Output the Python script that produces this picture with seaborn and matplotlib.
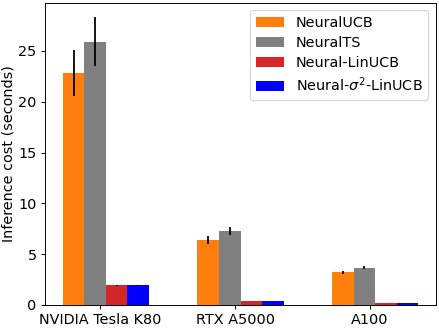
import numpy as np
import matplotlib
matplotlib.use("Agg")
import matplotlib.pyplot as plt
import seaborn as sns

# data
gpus = ["NVIDIA Tesla K80", "RTX A5000", "A100"]
methods = ["NeuralUCB", "NeuralTS", "Neural-LinUCB", r"Neural-$\sigma^2$-LinUCB"]
neural_ucb = [22.85, 6.4, 3.2]
neural_ucb_err = [2.25, 0.35, 0.15]
neural_ts = [25.9, 7.25, 3.65]
neural_ts_err = [2.4, 0.4, 0.15]
neural_linucb = [1.95, 0.4, 0.2]
neural_linucb_err = [0.06, 0.02, 0.02]
neural_s2_linucb = [1.95, 0.4, 0.2]
neural_s2_linucb_err = [0.06, 0.02, 0.02]

colors = sns.color_palette(["#ff7f0e", "gray", "#d62728", "blue"])

means = [neural_ucb, neural_ts, neural_linucb, neural_s2_linucb]
errs = [neural_ucb_err, neural_ts_err, neural_linucb_err, neural_s2_linucb_err]

width = 0.16
x = np.arange(len(gpus))

dpi = 86
fig = plt.figure(figsize=(439 / dpi, 329 / dpi), dpi=dpi)
ax = fig.add_subplot(111)
fig.subplots_adjust(left=45/439, right=436/439, top=1-3/329, bottom=1-305/329)

for i, name in enumerate(methods):
    ax.bar(x - 0.2 + i * width, means[i], width=width, color=colors[i], label=name,
           yerr=errs[i], ecolor="black", error_kw={"elinewidth": 1.5})

ax.set_xticks(x)
ax.set_xticklabels(gpus, fontsize=12)
ax.tick_params(axis="y", labelsize=12)
ax.set_ylabel("Inference cost (seconds)", fontsize=12, labelpad=2)
ax.legend(fontsize=12, loc="upper right", bbox_to_anchor=(0.98, 0.977),
          borderaxespad=0, labelspacing=0.42)

fig.savefig("out.png", dpi=dpi)
